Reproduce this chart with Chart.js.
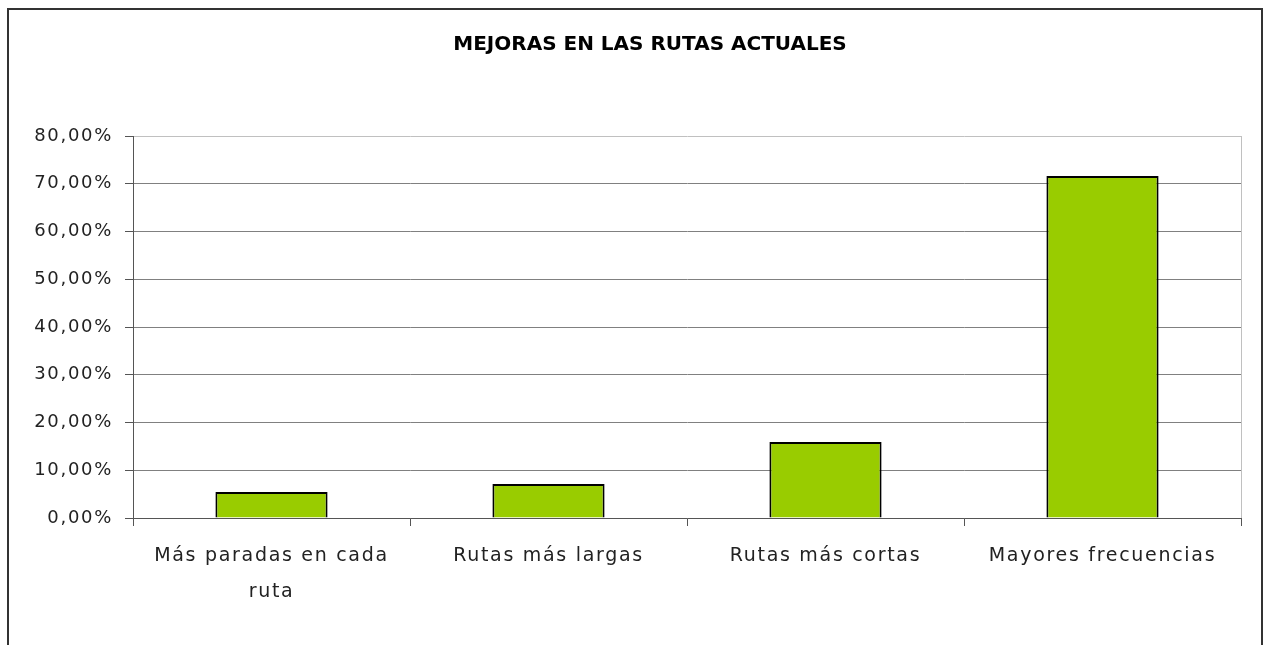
<!DOCTYPE html>
<html>
<head>
<meta charset="utf-8">
<script src="https://cdn.jsdelivr.net/npm/chart.js@4/dist/chart.umd.min.js"></script>
<style>
    html, body { margin: 0; padding: 0; background: #fff; overflow: hidden; }
    #wrap { position: relative; width: 1269px; height: 645px; }
    #frame {
        position: absolute; left: 7px; top: 8px; width: 1252px; height: 700px;
        border: 2px solid #333; pointer-events: none;
    }
</style>
</head>
<body>
<div id="wrap">
    <canvas id="rutasChart" width="1269" height="645"></canvas>
    <div id="frame"></div>
</div>
<script>
// data
let chartTitle = "MEJORAS EN LAS RUTAS ACTUALES";
let categories = [["Más paradas en cada", "ruta"], "Rutas más largas", "Rutas más cortas", "Mayores frecuencias"];
let percentValues = [5.45, 7.1, 15.9, 71.6];
let yTickLabels = ["0,00%", "10,00%", "20,00%", "30,00%", "40,00%", "50,00%", "60,00%", "70,00%", "80,00%"];

const fontName = "'DejaVu Sans', sans-serif";

// the original font (Century Gothic) is wide, so spread letters a bit
const spacing = {
    id: 'spacing',
    beforeDraw(chart) { chart.ctx.letterSpacing = "1.7px"; }
};

// title drawn by hand so it sits where the original one is
const titlePlugin = {
    id: 'titleText',
    afterDraw(chart) {
        const ctx = chart.ctx;
        ctx.save();
        ctx.letterSpacing = "0px";
        ctx.font = "bold 20px " + fontName;
        ctx.fillStyle = "#000";
        ctx.textAlign = "center";
        ctx.textBaseline = "middle";
        ctx.fillText(chartTitle, 650, 45);
        ctx.restore();
    }
};

// light grey plot area edge on the right
const plotEdge = {
    id: 'plotEdge',
    beforeDatasetsDraw(chart) {
        const a = chart.chartArea;
        const ctx = chart.ctx;
        ctx.save();
        ctx.strokeStyle = "#c0c0c0";
        ctx.lineWidth = 1;
        ctx.beginPath();
        ctx.moveTo(a.right + 0.5, a.top);
        ctx.lineTo(a.right + 0.5, a.bottom);
        ctx.stroke();
        ctx.restore();
    }
};

const ctx = document.getElementById("rutasChart").getContext("2d");
ctx.letterSpacing = "1.7px";
new Chart(ctx, {
    type: 'bar',
    data: {
        labels: categories,
        datasets: [{
            data: percentValues,
            backgroundColor: "#99cc00",
            borderColor: "#000",
            borderWidth: 2,
            categoryPercentage: 1,
            barPercentage: 0.405
        }]
    },
    options: {
        responsive: false,
        animation: false,
        layout: { padding: { left: 0, right: 28, top: 136, bottom: 0 } },
        plugins: {
            legend: { display: false },
            tooltip: { enabled: false }
        },
        scales: {
            x: {
                afterFit: (scale) => { scale.height = 127; },
                grid: {
                    offset: true,
                    drawOnChartArea: false,
                    tickLength: 8,
                    tickColor: "#555"
                },
                border: { color: "#555", width: 1 },
                ticks: {
                    color: "#222",
                    padding: 12,
                    font: { family: fontName, size: 19, lineHeight: 1.9 }
                }
            },
            y: {
                min: 0,
                max: 80,
                afterFit: (scale) => { scale.width = 133; },
                grid: {
                    color: (c) => c.tick && c.tick.value === 80 ? "#c0c0c0" : "#808080",
                    tickLength: 8,
                    tickColor: "#555"
                },
                border: { color: "#555", width: 1 },
                ticks: {
                    stepSize: 10,
                    color: "#222",
                    padding: 12,
                    font: { family: fontName, size: 18 },
                    callback: (val, i) => yTickLabels[i]
                }
            }
        }
    },
    plugins: [spacing, titlePlugin, plotEdge]
});
</script>
</body>
</html>
